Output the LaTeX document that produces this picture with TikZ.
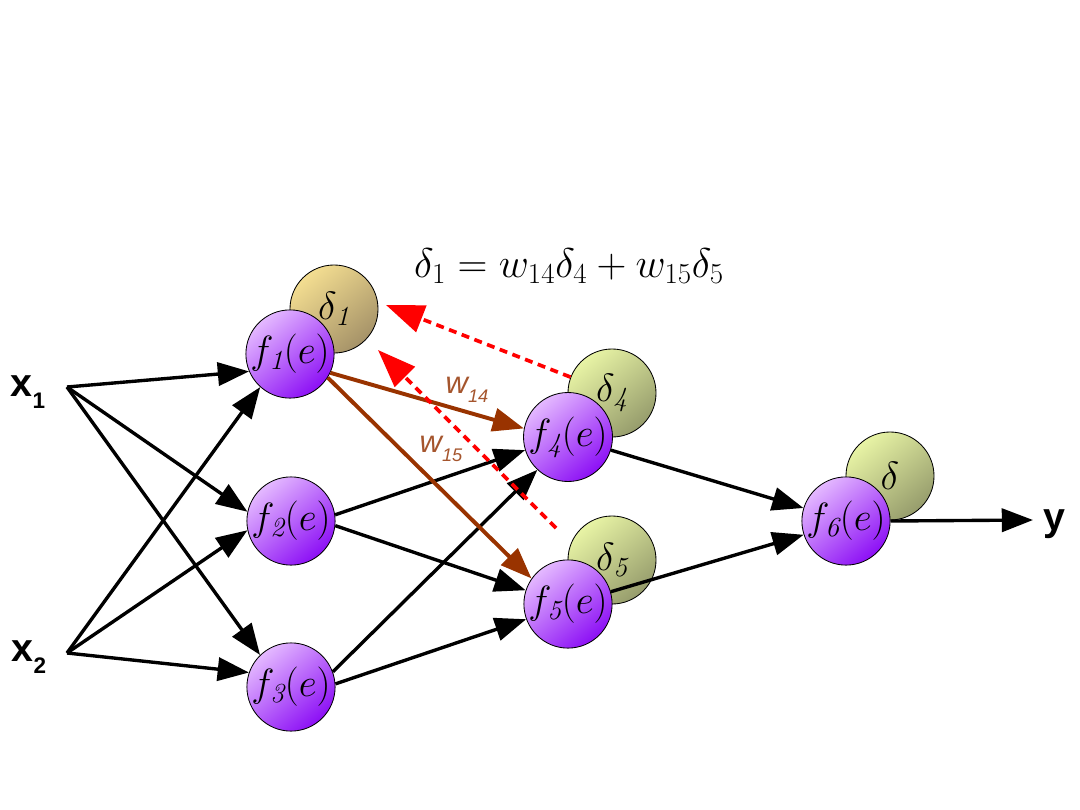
\RequirePackage{fix-cm}
\documentclass[tikz,border=0pt]{standalone}
\usepackage{fontspec}
\newfontfamily\lsans{Liberation Sans}
\usetikzlibrary{arrows.meta}
\definecolor{fa}{RGB}{228,185,255}
\definecolor{fb}{RGB}{140,15,245}
\definecolor{ga}{RGB}{232,244,165}
\definecolor{gb}{RGB}{150,156,108}
\definecolor{ya}{RGB}{244,222,145}
\definecolor{yb}{RGB}{165,146,104}
\definecolor{brn}{RGB}{153,51,0}
\definecolor{wlab}{RGB}{165,85,45}
\begin{document}
\begin{tikzpicture}[x=0.025cm,y=-0.025cm,
  ball/.style={circle,draw=black,line width=0.6pt,minimum size=2.2cm,inner sep=0pt},
  fnode/.style={ball,top color=fa,bottom color=fb,shading angle=40,font=\fontsize{28}{28}\selectfont},
  dnode/.style={ball,top color=ga,bottom color=gb,shading angle=40,font=\fontsize{28}{28}\selectfont},
  d1node/.style={ball,top color=ya,bottom color=yb,shading angle=40,font=\fontsize{28}{28}\selectfont},
  conn/.style={line width=2.4pt,-{Triangle[length=0.78cm,width=0.58cm]}},
  wconn/.style={conn,line width=2.8pt,color=brn},
  back/.style={color=red,line width=2.6pt,dash pattern=on 0.2cm off 0.14cm,-{Triangle[length=0.95cm,width=0.7cm]}},
  wlabel/.style={text=wlab,font=\lsans\itshape\fontsize{22}{22}\selectfont,inner sep=0pt},
  xlabel/.style={font=\lsans\bfseries\fontsize{28}{28}\selectfont,inner sep=0pt}]
\useasboundingbox (0,0) rectangle (1080,810);

% delta balls
\node[d1node] (d1) at (334,309) {$\delta_{\mathit{1}}$};
\node[dnode] (d4) at (612,393) {$\delta_{\mathit{4}}$};
\node[dnode] (d5) at (612,560) {$\delta_{\mathit{5}}$};
\node[dnode] (d6) at (890,476) {$\delta$};

% neurons
\node[fnode] (f1) at (290,354) {$f_{\mathit{1}}(e)$};
\node[fnode] (f2) at (291,521) {$f_{\mathit{2}}(e)$};
\node[fnode] (f3) at (291,687) {$f_{\mathit{3}}(e)$};
\node[fnode] (f4) at (568,437) {$f_{\mathit{4}}(e)$};
\node[fnode] (f5) at (568,604) {$f_{\mathit{5}}(e)$};
\node[fnode] (f6) at (846,521) {$f_{\mathit{6}}(e)$};

% inputs / output
\node[xlabel] (x1) at (28,392) {x\raisebox{-9pt}{\fontsize{16}{16}\selectfont 1}};
\node[xlabel] (x2) at (29,657) {x\raisebox{-9pt}{\fontsize{16}{16}\selectfont 2}};
\node[xlabel,anchor=west] (y) at (1043,524) {y};
\coordinate (x1o) at (67,387);
\coordinate (x2o) at (67,653);
\coordinate (yo) at (1033,520);

% connectors
\draw[conn] (x1o) -- (f1.203);
\draw[conn] (x1o) -- (f2.168);
\draw[conn] (x1o) -- (f3.134);
\draw[conn] (x2o) -- (f1.228);
\draw[conn] (x2o) -- (f2.192);
\draw[conn] (x2o) -- (f3.161);
\draw[conn] (f2.8) -- (f4.197);
\draw[conn] (f2.-6) -- (f5.162);
\draw[conn] (f3.20) -- (f4.227);
\draw[conn] (f3.4) -- (f5.200);
\draw[conn] (f4.-17) -- (f6.163);
\draw[conn] (f5.16) -- (f6.198);
\draw[conn] (f6.east) -- (yo);
\draw[wconn] (f1.-25) -- (f4.169);
\draw[wconn] (f1.-32) -- (f5.145);

\node[wlabel] (w14) at (467,390) {w\raisebox{-6pt}{\fontsize{13}{13}\selectfont 14}};
\node[wlabel] (w15) at (441,449) {w\raisebox{-6pt}{\fontsize{13}{13}\selectfont 15}};

% back-propagation
\coordinate (b1) at (386,305);
\coordinate (b2s) at (556,528);
\coordinate (b2e) at (378,350);
\draw[back] (d4.159) -- (b1);
\draw[back] (b2s) -- (b2e);

% formula
\node[font=\fontsize{29.5}{30}\selectfont,inner sep=0pt] (eq) at (569,266) {$\delta_1 = w_{14}\delta_4 + w_{15}\delta_5$};
\end{tikzpicture}
\end{document}
